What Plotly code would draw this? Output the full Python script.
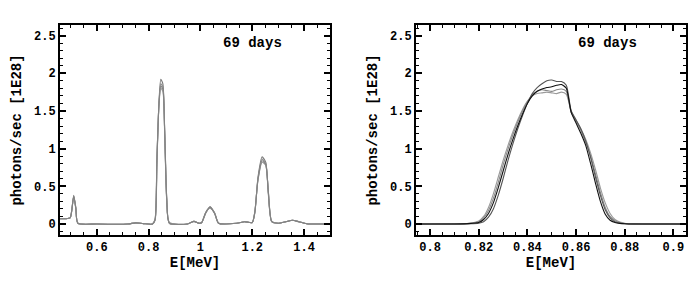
import plotly.graph_objects as go

# ---------------- data: left panel (full spectrum) ----------------
e_full = [0.458, 0.48, 0.497, 0.503, 0.511, 0.519, 0.527, 0.60, 0.72, 0.75, 0.78, 0.815,
          0.825, 0.832, 0.840, 0.847, 0.855, 0.862, 0.870, 0.880, 0.95, 0.975, 0.995,
          1.005, 1.02, 1.037, 1.055, 1.07, 1.14, 1.17, 1.20, 1.21, 1.222, 1.238, 1.252,
          1.262, 1.275, 1.30, 1.33, 1.355, 1.38, 1.41, 1.50]
full_a = [0.07, 0.07, 0.08, 0.17, 0.38, 0.22, 0.01, 0.0, 0.0, 0.015, 0.005, 0.0,
          0.05, 0.80, 1.62, 1.92, 1.86, 1.20, 0.30, 0.01, 0.0, 0.035, 0.01,
          0.02, 0.14, 0.23, 0.14, 0.01, 0.01, 0.03, 0.02, 0.15, 0.62, 0.89, 0.82,
          0.40, 0.03, 0.01, 0.03, 0.05, 0.03, 0.003, 0.0]
full_b = [0.07, 0.07, 0.08, 0.16, 0.37, 0.21, 0.01, 0.0, 0.0, 0.015, 0.005, 0.0,
          0.06, 0.85, 1.60, 1.86, 1.82, 1.22, 0.32, 0.01, 0.0, 0.035, 0.01,
          0.02, 0.15, 0.22, 0.14, 0.01, 0.01, 0.03, 0.02, 0.16, 0.60, 0.86, 0.80,
          0.42, 0.03, 0.01, 0.03, 0.05, 0.03, 0.003, 0.0]
full_c = [0.07, 0.07, 0.08, 0.18, 0.36, 0.20, 0.01, 0.0, 0.0, 0.015, 0.005, 0.0,
          0.07, 0.88, 1.58, 1.80, 1.76, 1.24, 0.34, 0.02, 0.0, 0.035, 0.01,
          0.02, 0.15, 0.21, 0.15, 0.01, 0.01, 0.03, 0.02, 0.17, 0.58, 0.82, 0.78,
          0.44, 0.04, 0.01, 0.03, 0.05, 0.03, 0.003, 0.0]
full_d = [0.07, 0.07, 0.08, 0.17, 0.37, 0.21, 0.01, 0.0, 0.0, 0.015, 0.005, 0.0,
          0.06, 0.86, 1.59, 1.83, 1.79, 1.23, 0.33, 0.015, 0.0, 0.035, 0.01,
          0.02, 0.15, 0.22, 0.14, 0.01, 0.01, 0.03, 0.02, 0.16, 0.59, 0.84, 0.79,
          0.43, 0.035, 0.01, 0.03, 0.05, 0.03, 0.003, 0.0]

# ---------------- data: right panel (0.847 MeV line) ----------------
e_zoom = [0.794, 0.810, 0.816, 0.820, 0.822, 0.824, 0.826, 0.828, 0.830, 0.832, 0.834,
          0.836, 0.838, 0.840, 0.842, 0.844, 0.846, 0.848, 0.850, 0.852, 0.854, 0.856,
          0.858, 0.860, 0.862, 0.864, 0.866, 0.868, 0.870, 0.872, 0.874, 0.876, 0.878,
          0.880, 0.884, 0.890, 0.905]
zoom_a = [0.0, 0.0, 0.003, 0.01, 0.03, 0.09, 0.20, 0.38, 0.60, 0.84, 1.06,
          1.26, 1.44, 1.60, 1.73, 1.81, 1.86, 1.90, 1.91, 1.89, 1.89, 1.84,
          1.50, 1.38, 1.26, 1.10, 0.88, 0.62, 0.38, 0.19, 0.08, 0.03, 0.010,
          0.003, 0.0, 0.0, 0.0]
zoom_b = [0.0, 0.0, 0.005, 0.02, 0.06, 0.14, 0.28, 0.48, 0.70, 0.92, 1.12,
          1.30, 1.46, 1.60, 1.70, 1.76, 1.79, 1.81, 1.82, 1.84, 1.85, 1.80,
          1.48, 1.34, 1.20, 1.04, 0.80, 0.54, 0.30, 0.13, 0.05, 0.02, 0.008,
          0.003, 0.0, 0.0, 0.0]
zoom_c = [0.0, 0.002, 0.01, 0.04, 0.10, 0.22, 0.40, 0.62, 0.84, 1.04, 1.22,
          1.38, 1.52, 1.63, 1.70, 1.73, 1.74, 1.75, 1.74, 1.73, 1.75, 1.72,
          1.50, 1.38, 1.26, 1.12, 0.94, 0.72, 0.48, 0.28, 0.14, 0.06, 0.025,
          0.010, 0.003, 0.0, 0.0]
zoom_d = [0.0, 0.001, 0.008, 0.03, 0.08, 0.18, 0.34, 0.55, 0.78, 0.99, 1.18,
          1.35, 1.50, 1.62, 1.71, 1.76, 1.78, 1.77, 1.76, 1.78, 1.79, 1.76,
          1.48, 1.37, 1.24, 1.08, 0.90, 0.66, 0.42, 0.22, 0.10, 0.045, 0.018,
          0.006, 0.002, 0.0, 0.0]

y_ticks = [0, 0.5, 1, 1.5, 2, 2.5]
y_ticktext = ["0", "0.5", "1", "1.5", "2", "2.5"]
x1_ticks = [0.6, 0.8, 1.0, 1.2, 1.4]
x1_ticktext = ["0.6", "0.8", "1", "1.2", "1.4"]
x2_ticks = [0.80, 0.82, 0.84, 0.86, 0.88, 0.90]
x2_ticktext = ["0.8", "0.82", "0.84", "0.86", "0.88", "0.9"]
label_text = "69 days"

FONT = "Liberation Mono"
fig = go.Figure()

for ys, col in [(full_a, "#777777"), (full_b, "#8c8c8c"), (full_c, "#9a9a9a"), (full_d, "#828282")]:
    fig.add_trace(go.Scatter(x=e_full, y=ys, mode="lines", line=dict(color=col, width=1.1, shape="spline", smoothing=0.6),
                             xaxis="x", yaxis="y", showlegend=False))
for ys, col in [(zoom_c, "#9a9a9a"), (zoom_d, "#888888"), (zoom_a, "#555555"), (zoom_b, "#111111")]:
    fig.add_trace(go.Scatter(x=e_zoom, y=ys, mode="lines", line=dict(color=col, width=1.1, shape="spline", smoothing=0.6),
                             xaxis="x2", yaxis="y2", showlegend=False))

W, H = 695, 284
tickfont = dict(family=FONT, size=12, color="black", weight="bold")
titlefont = dict(family=FONT, size=14, color="black", weight="bold")

def xax(domain, rng, tv, tt, minor_dt, anchor):
    return dict(domain=domain, range=rng, tickvals=tv, ticktext=tt, ticks="inside", ticklen=6,
                tickwidth=1.5, tickcolor="black", showline=True, linewidth=2, linecolor="black",
                mirror="allticks", showgrid=False, zeroline=False, tickfont=tickfont,
                minor=dict(ticks="inside", ticklen=3, tickwidth=1.2, tickcolor="black", dtick=minor_dt, tick0=0),
                title=dict(text="E[MeV]", font=titlefont, standoff=2), anchor=anchor, automargin=False)

def yax(anchor):
    return dict(domain=[49 / H, 1 - 25 / H], range=[-0.146, 2.64], tickvals=y_ticks, ticktext=y_ticktext,
                ticks="inside", ticklen=6, tickwidth=1.5, tickcolor="black", showline=True, linewidth=2,
                linecolor="black", mirror="allticks", showgrid=False, zeroline=False, tickfont=tickfont,
                minor=dict(ticks="inside", ticklen=3, tickwidth=1.2, tickcolor="black", dtick=0.1, tick0=0),
                title=dict(text="photons/sec [1E28]", font=titlefont, standoff=9), anchor=anchor, automargin=False)

fig.update_layout(
    width=W, height=H, margin=dict(l=0, r=0, t=0, b=0),
    paper_bgcolor="white", plot_bgcolor="white",
    xaxis=xax([60 / W, 330 / W], [0.458, 1.5], x1_ticks, x1_ticktext, 0.05, "y"),
    yaxis=yax("x"),
    xaxis2=xax([416 / W, 686 / W], [0.7942, 0.9052], x2_ticks, x2_ticktext, 0.005, "y2"),
    yaxis2=yax("x2"),
    annotations=[
        dict(x=1.2, y=2.4, xref="x", yref="y", text=label_text, showarrow=False, font=titlefont),
        dict(x=0.873, y=2.4, xref="x2", yref="y2", text=label_text, showarrow=False, font=titlefont),
    ],
)

fig.write_html("out.html", config={"displayModeBar": False},
               post_script="document.body.style.margin='0';document.body.style.overflow='hidden';")
